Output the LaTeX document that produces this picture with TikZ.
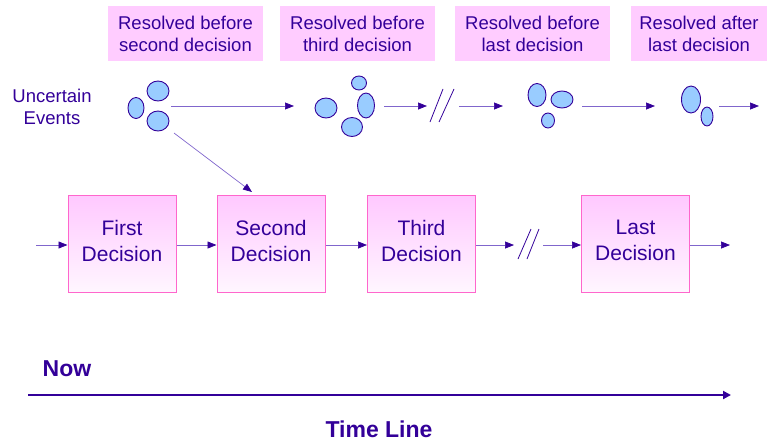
\documentclass[tikz,border=0pt]{standalone}
\usepackage{fontspec}
\setmainfont{Liberation Sans}
\usetikzlibrary{shapes.geometric,arrows.meta}
\definecolor{ink}{HTML}{330099}
\definecolor{lblpink}{HTML}{FFCCFF}
\definecolor{toppink}{HTML}{FFC8FF}
\definecolor{lowpink}{HTML}{FFF6FF}
\definecolor{boxedge}{HTML}{FF66CC}
\definecolor{bub}{HTML}{99CCFF}
\definecolor{linec}{HTML}{8066CC}
\begin{document}
\begin{tikzpicture}[x=1pt,y=-1pt,
  lbl/.style={fill=lblpink, minimum height=55pt, inner sep=0pt, align=center, text=ink, font=\fontsize{18.5}{22}\selectfont},
  dec/.style={draw=boxedge, line width=1pt, top color=toppink, bottom color=lowpink, minimum width=108pt, minimum height=97pt, inner sep=0pt, align=center, text=ink, font=\fontsize{21}{26}\selectfont},
  ev/.style={ellipse, draw=ink, fill=bub, line width=0.9pt, inner sep=0pt},
  arr/.style={draw=linec, line width=0.7pt, -{Triangle[length=9pt,width=7pt,color=ink]}},
  brk/.style={draw=ink, line width=0.8pt},
  bold/.style={text=ink, font=\bfseries\fontsize{23}{26}\selectfont}]
\useasboundingbox (0,0) rectangle (767,442);

% top labels
\node[lbl, minimum width=155pt] (l1) at (185.5,33.5) {Resolved before\\second decision};
\node[lbl, minimum width=155pt] (l2) at (357.5,33.5) {Resolved before\\third decision};
\node[lbl, minimum width=155pt] (l3) at (532.5,33.5) {Resolved before\\last decision};
\node[lbl, minimum width=136pt] (l4) at (699,33.5) {Resolved after\\last decision};

\node[text=ink, align=center, font=\fontsize{18.5}{22}\selectfont] (ue) at (52,107) {Uncertain\\Events};

% event groups
\node[ev, minimum width=16pt, minimum height=21pt] (a1) at (136,108) {};
\node[ev, minimum width=22pt, minimum height=20pt] (a2) at (158,91) {};
\node[ev, minimum width=22pt, minimum height=20pt] (a3) at (158,121) {};

\node[ev, minimum width=22pt, minimum height=20pt] (b1) at (326,108) {};
\node[ev, minimum width=15pt, minimum height=14pt] (b2) at (359,83) {};
\node[ev, minimum width=17pt, minimum height=25pt] (b3) at (366,105.5) {};
\node[ev, minimum width=21pt, minimum height=19pt] (b4) at (352,127) {};

\node[ev, minimum width=18pt, minimum height=23pt] (c1) at (537,95) {};
\node[ev, minimum width=22pt, minimum height=17pt] (c2) at (562,99.5) {};
\node[ev, minimum width=13pt, minimum height=15pt] (c3) at (548,120.5) {};

\node[ev, minimum width=19pt, minimum height=27pt] (d1) at (691,99.5) {};
\node[ev, minimum width=12pt, minimum height=19pt] (d2) at (707,116.5) {};

% arrows between event groups
\coordinate (ta1) at (171,106);
\coordinate (ta2) at (294,106);
\coordinate (tb1) at (384,106);
\coordinate (tb2) at (427,106);
\coordinate (tc1) at (459,106);
\coordinate (tc2) at (503,106);
\coordinate (td1) at (582,106);
\coordinate (td2) at (655,106);
\coordinate (te1) at (719,106);
\coordinate (te2) at (759,106);
\draw[arr] (ta1) -- (ta2);
\draw[arr] (tb1) -- (tb2);
\draw[arr] (tc1) -- (tc2);
\draw[arr] (td1) -- (td2);
\draw[arr] (te1) -- (te2);
\coordinate (bt1) at (430,122);
\coordinate (bt2) at (443,89);
\coordinate (bt3) at (439,122);
\coordinate (bt4) at (454,89);
\draw[brk] (bt1) -- (bt2);
\draw[brk] (bt3) -- (bt4);

% decision boxes
\node[dec] (first) at (122,243.5) {First\\Decision\rule[-6pt]{0pt}{0pt}};
\node[dec] (second) at (271,243.5) {Second\\Decision\rule[-6pt]{0pt}{0pt}};
\node[dec] (third) at (421.5,243.5) {Third\\Decision\rule[-6pt]{0pt}{0pt}};
\node[dec] (last) at (635.5,243.5) {Last\\Decision\rule[-6pt]{0pt}{0pt}};

\coordinate (ds) at (174,133);
\coordinate (de) at (252,192);
\draw[arr] (ds) -- (de);

\coordinate (in0) at (36,245);
\draw[arr] (in0) -- (first.west |- in0);
\draw[arr] (first.east |- in0) -- (second.west |- in0);
\draw[arr] (second.east |- in0) -- (third.west |- in0);
\coordinate (bb0) at (514,245);
\draw[arr] (third.east |- in0) -- (bb0);
\coordinate (bb1) at (518,259);
\coordinate (bb2) at (531,229);
\coordinate (bb3) at (527,259);
\coordinate (bb4) at (539,229);
\draw[brk] (bb1) -- (bb2);
\draw[brk] (bb3) -- (bb4);
\coordinate (bb5) at (543,245);
\draw[arr] (bb5) -- (last.west |- in0);
\coordinate (out0) at (730,245);
\draw[arr] (last.east |- in0) -- (out0);

% time line
\node[bold] (now) at (67,369) {Now};
\coordinate (tl0) at (28,395);
\coordinate (tl1) at (731,395);
\draw[draw=ink, line width=2pt, -{Triangle[length=8pt,width=8pt,color=ink]}] (tl0) -- (tl1);
\node[bold] (tline) at (379,429.5) {Time Line};
\end{tikzpicture}
\end{document}
